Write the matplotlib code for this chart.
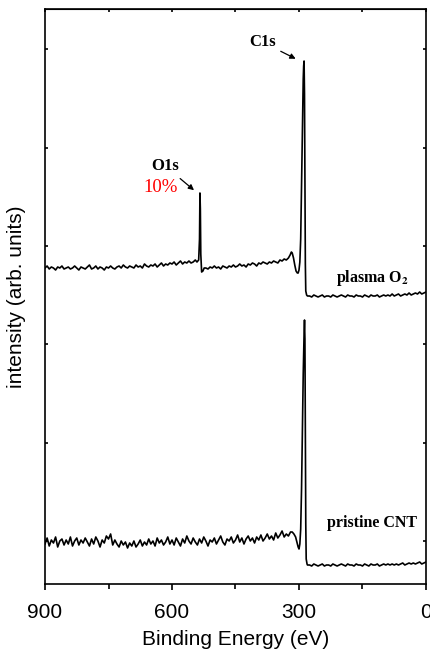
import numpy as np
import matplotlib
matplotlib.use("Agg")
import matplotlib.pyplot as plt

plt.rcParams["mathtext.fontset"] = "stix"

# --- espectro XPS, CNT tratado con plasma O2 (intensidad en unidades arbitrarias) ---
plasma_be_a = np.arange(900, 544, -5)
plasma_int_a = [316, 318, 315, 317, 316, 314, 317, 316, 318, 315,
                316, 317, 315, 316, 318, 316, 314, 317, 316, 315,
                317, 319, 315, 316, 318, 315, 317, 316, 314, 317,
                316, 318, 316, 315, 317, 318, 316, 319, 317, 316,
                318, 317, 316, 319, 317, 318, 316, 320, 318, 317,
                319, 318, 320, 317, 319, 321, 318, 320, 319, 321,
                320, 322, 319, 321, 323, 320, 322, 321, 323, 321,
                322, 324]
o1s_be = [541, 537, 535, 534, 533, 532, 530, 527, 524]
o1s_int = [322, 324, 345, 391, 375, 330, 312, 313, 316]
plasma_be_b = np.arange(520, 329, -5)
plasma_int_b = [316, 315, 317, 316, 318, 316, 317, 315, 318, 317,
                316, 318, 317, 319, 317, 318, 320, 318, 319, 317,
                320, 319, 321, 320, 318, 321, 320, 322, 321, 320,
                322, 321, 323, 322, 321, 324, 323, 325, 324]
plasma_c1s_be = [325, 321, 318, 316, 313, 310, 307, 304, 302, 300, 298, 296,
                 294, 292, 290, 289, 288, 287, 286, 285, 284, 282, 280]
plasma_c1s_int = [326, 329, 332, 331, 326, 319, 313, 311, 311, 314, 322, 345,
                  400, 460, 505, 518, 523, 490, 400, 320, 293, 289, 288]
plasma_be_c = np.arange(275, -1, -5)
plasma_int_c = [288, 287, 289, 288, 287, 288, 289, 287, 288, 288,
                287, 289, 288, 287, 288, 289, 288, 287, 289, 288,
                288, 287, 289, 288, 288, 287, 289, 288, 287, 289,
                288, 288, 289, 287, 288, 289, 288, 289, 288, 290,
                288, 289, 290, 288, 289, 290, 289, 291, 289, 290,
                291, 290, 292, 290, 291, 292]

# --- espectro XPS, CNT prístino ---
pristine_be_a = np.arange(900, 319, -5)
pristine_int_a = [40, 46, 38, 44, 41, 47, 37, 43, 45, 39,
                  44, 40, 47, 38, 43, 46, 39, 44, 41, 46,
                  42, 38, 45, 40, 47, 43, 37, 44, 41, 48,
                  45, 50, 39, 44, 40, 37, 43, 39, 42, 36,
                  41, 38, 43, 37, 40, 44, 38, 42, 39, 45,
                  40, 43, 38, 46, 41, 44, 39, 42, 47, 40,
                  44, 39, 46, 42, 38, 45, 41, 48, 43, 40,
                  46, 42, 39, 45, 41, 47, 43, 38, 44, 42,
                  46, 40, 44, 48, 42, 39, 45, 43, 47, 41,
                  44, 49, 42, 46, 40, 45, 48, 43, 46, 41,
                  47, 44, 49, 43, 46, 50, 45, 48, 44, 51,
                  46, 49, 53, 47, 50, 48, 52]
pristine_c1s_be = [316, 312, 308, 305, 302, 300, 298, 296, 294, 292,
                   290, 288, 287, 286, 285, 284, 283, 281, 280]
pristine_c1s_int = [52, 50, 47, 42, 37, 35, 40, 55, 95, 150,
                    210, 250, 264, 245, 160, 60, 25, 20, 19]
pristine_be_c = np.arange(275, -1, -5)
pristine_int_c = [19, 18, 20, 19, 18, 19, 20, 18, 19, 19,
                  18, 20, 19, 18, 19, 20, 19, 18, 20, 19,
                  19, 18, 20, 19, 19, 18, 20, 19, 18, 20,
                  19, 19, 20, 18, 19, 20, 19, 20, 19, 20,
                  19, 20, 19, 20, 21, 19, 20, 21, 20, 21,
                  20, 21, 22, 20, 21, 22]

x_ticks = [900, 600, 300, 0]
x_minor = [750, 450, 150]
y_ticks = [43, 141, 240, 338, 436, 535]

plasma_be = np.concatenate([plasma_be_a, o1s_be, plasma_be_b, plasma_c1s_be, plasma_be_c])
plasma_int = np.concatenate([plasma_int_a, o1s_int, plasma_int_b, plasma_c1s_int, plasma_int_c])
pristine_be = np.concatenate([pristine_be_a, pristine_c1s_be, pristine_be_c])
pristine_int = np.concatenate([pristine_int_a, pristine_c1s_int, pristine_int_c])

sans = ["Liberation Sans", "DejaVu Sans"]
serif = ["Liberation Serif", "DejaVu Serif"]

fig = plt.figure(figsize=(4.3, 6.56), dpi=100)
ax = fig.add_axes([45 / 430, 1 - 584 / 656, 381 / 430, 575 / 656])

ax.plot(plasma_be, plasma_int, color="black", lw=1.2)
ax.plot(pristine_be, pristine_int, color="black", lw=1.2)

ax.set_xlim(900, 0)
ax.set_ylim(0, 575)

# ejes
for s in ax.spines.values():
    s.set_linewidth(1.2)
ax.set_xticks(x_ticks)
ax.set_xticks(x_minor, minor=True)
ax.set_xticklabels([str(t) for t in x_ticks], fontfamily=sans, fontsize=15)
ax.tick_params(axis="x", which="major", direction="out", length=4.5, width=1.2, pad=9)
ax.tick_params(axis="x", which="minor", direction="out", length=3.5, width=1.2)
ax.set_yticks(y_ticks)
ax.set_yticklabels([])
ax.tick_params(axis="y", which="major", direction="in", length=2, width=1.2,
               left=True, right=True)

top = ax.secondary_xaxis("top")
top.set_xticks(x_ticks + x_minor)
top.tick_params(direction="in", length=2, width=1.2, labeltop=False)

ax.set_xlabel("Binding Energy (eV)", fontfamily=sans, fontsize=15)
ax.xaxis.set_label_coords(0.5, -0.080)
ax.set_ylabel("intensity (arb. units)", fontfamily=sans, fontsize=15)
ax.yaxis.set_label_coords(-0.05, 0.5)

# anotaciones
arrow = dict(arrowstyle="-|>", color="black", lw=0.9, mutation_scale=8)
ax.annotate("C1s", xy=(302, 524), xytext=(387, 542), ha="center", va="center",
            fontfamily=serif, fontweight="bold", fontsize=12, arrowprops=arrow)
ax.annotate("O1s", xy=(543, 392), xytext=(616, 418), ha="center", va="center",
            fontfamily=serif, fontweight="bold", fontsize=12, arrowprops=arrow)
ax.text(626, 396, "10%", color="red", ha="center", va="center",
        fontfamily=serif, fontsize=13.5)
ax.text(127, 306, r"plasma O$_\mathbf{2}$", ha="center", va="center",
        fontfamily=serif, fontweight="bold", fontsize=11.5)
ax.text(127, 61, "pristine CNT", ha="center", va="center",
        fontfamily=serif, fontweight="bold", fontsize=11.5)

fig.savefig("out.png", dpi=100)
